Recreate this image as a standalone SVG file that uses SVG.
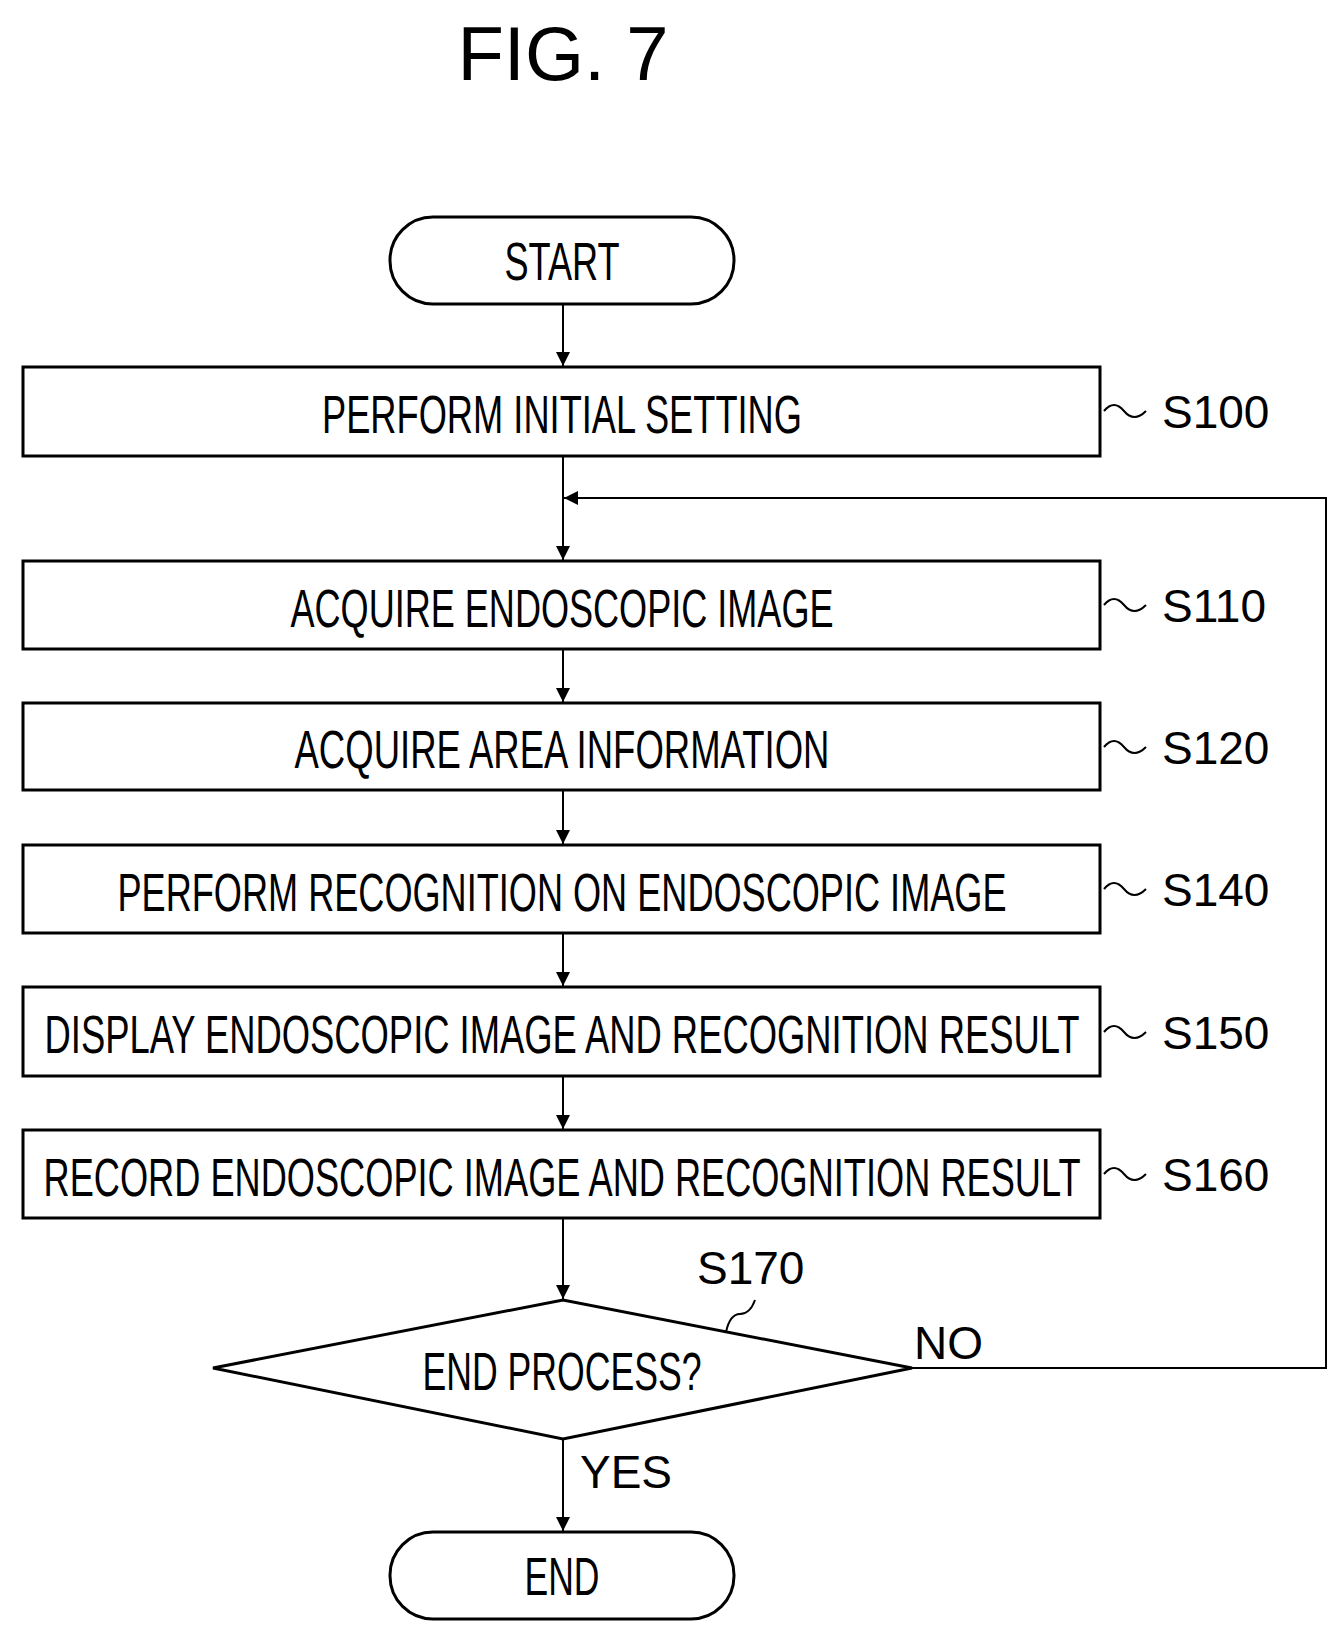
<svg xmlns="http://www.w3.org/2000/svg" width="1341" height="1636" viewBox="0 0 1341 1636">
<style>
.b{fill:#fff;stroke:#000;stroke-width:3}
.t{font-family:"Liberation Sans",Arial,sans-serif;font-size:54px;text-anchor:middle}
.l{font-family:"Liberation Sans",Arial,sans-serif;font-size:46px}
.c{fill:none;stroke:#000;stroke-width:2}
</style>
<defs><marker id="a" markerWidth="14" markerHeight="20" refX="14" refY="10" orient="auto" markerUnits="userSpaceOnUse"><path d="M0,3 L14,10 L0,17 Z" fill="#000"/></marker></defs>
<rect width="1341" height="1636" fill="#fff"/>
<text x="563" y="80" text-anchor="middle" style="font-family:'Liberation Sans',Arial,sans-serif;font-size:76px">FIG. 7</text>
<g id="connectors" class="c">
<line x1="563" y1="304" x2="563" y2="366" marker-end="url(#a)"/>
<line x1="563" y1="456" x2="563" y2="560" marker-end="url(#a)"/>
<line x1="563" y1="649" x2="563" y2="702" marker-end="url(#a)"/>
<line x1="563" y1="790" x2="563" y2="844" marker-end="url(#a)"/>
<line x1="563" y1="933" x2="563" y2="986" marker-end="url(#a)"/>
<line x1="563" y1="1076" x2="563" y2="1129" marker-end="url(#a)"/>
<line x1="563" y1="1218" x2="563" y2="1299" marker-end="url(#a)"/>
<line x1="563" y1="1439" x2="563" y2="1531" marker-end="url(#a)"/>
<polyline points="912,1368 1326,1368 1326,498 564,498" marker-end="url(#a)"/>
<path d="M1104,411 q10,-12 20,0 t22,0 M1104,605 q10,-12 20,0 t22,0 M1104,747 q10,-12 20,0 t22,0 M1104,889 q10,-12 20,0 t22,0 M1104,1032 q10,-12 20,0 t22,0 M1104,1174 q10,-12 20,0 t22,0 M755,1300 q-5,14 -15,14 t-14,18"/>
</g>
<g id="start"><rect class="b" x="390" y="217" width="344" height="87" rx="43"/><text class="t" x="562" y="280" textLength="115" lengthAdjust="spacingAndGlyphs">START</text></g>
<g id="s100"><rect class="b" x="23" y="367" width="1077" height="89"/><text class="t" x="562" y="433" textLength="480" lengthAdjust="spacingAndGlyphs">PERFORM INITIAL SETTING</text><text class="l" x="1162" y="428">S100</text></g>
<g id="s110"><rect class="b" x="23" y="561" width="1077" height="88"/><text class="t" x="562" y="627" textLength="543" lengthAdjust="spacingAndGlyphs">ACQUIRE ENDOSCOPIC IMAGE</text><text class="l" x="1162" y="622">S110</text></g>
<g id="s120"><rect class="b" x="23" y="703" width="1077" height="87"/><text class="t" x="562" y="768" textLength="535" lengthAdjust="spacingAndGlyphs">ACQUIRE AREA INFORMATION</text><text class="l" x="1162" y="764">S120</text></g>
<g id="s140"><rect class="b" x="23" y="845" width="1077" height="88"/><text class="t" x="562" y="911" textLength="889" lengthAdjust="spacingAndGlyphs">PERFORM RECOGNITION ON ENDOSCOPIC IMAGE</text><text class="l" x="1162" y="906">S140</text></g>
<g id="s150"><rect class="b" x="23" y="987" width="1077" height="89"/><text class="t" x="562" y="1053" textLength="1035" lengthAdjust="spacingAndGlyphs">DISPLAY ENDOSCOPIC IMAGE AND RECOGNITION RESULT</text><text class="l" x="1162" y="1049">S150</text></g>
<g id="s160"><rect class="b" x="23" y="1130" width="1077" height="88"/><text class="t" x="562" y="1196" textLength="1037" lengthAdjust="spacingAndGlyphs">RECORD ENDOSCOPIC IMAGE AND RECOGNITION RESULT</text><text class="l" x="1162" y="1191">S160</text></g>
<g id="s170"><polygon class="b" points="213,1368 563,1300 912,1368 563,1439"/><text class="t" x="562" y="1390" textLength="279" lengthAdjust="spacingAndGlyphs">END PROCESS?</text><text class="l" x="697" y="1284">S170</text><text class="l" x="914" y="1359">NO</text><text class="l" x="580" y="1488">YES</text></g>
<g id="end"><rect class="b" x="390" y="1532" width="344" height="87" rx="43"/><text class="t" x="562" y="1595" textLength="75" lengthAdjust="spacingAndGlyphs">END</text></g>
</svg>
